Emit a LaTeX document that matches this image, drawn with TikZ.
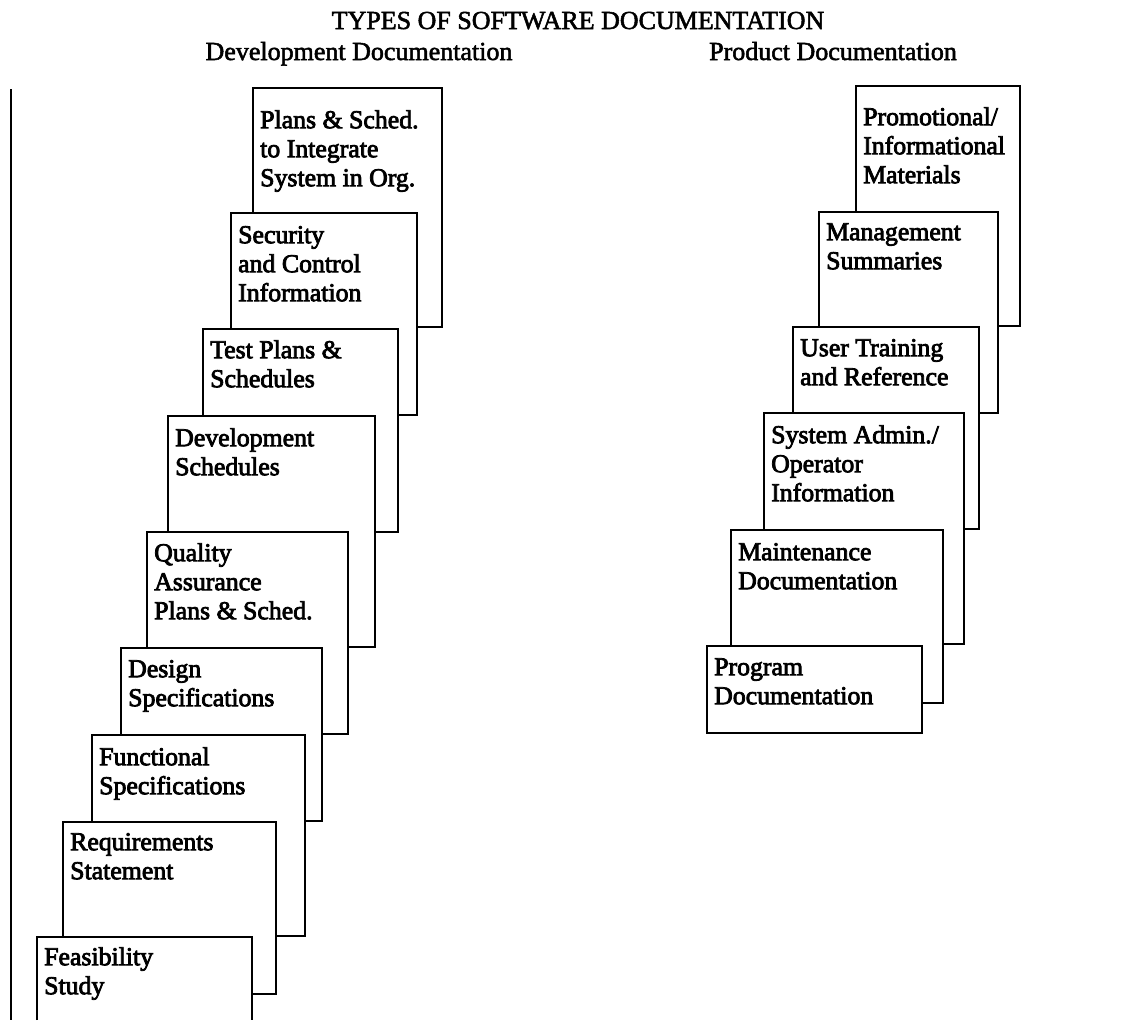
\documentclass[tikz,border=0pt]{standalone}
\usepackage{fontspec}
\setmainfont{Liberation Serif}
\font\boxfnt="Liberation Serif:embolden=3" at 25.8pt
\font\headfnt="Liberation Serif:embolden=2" at 26pt
\newcommand{\boxfont}{\boxfnt\baselineskip=29pt\relax}
\newcommand{\headfont}{\headfnt}
% #1 name, #2 left, #3 top, #4 right, #5 bottom, #6 first-baseline offset, #7 text
\newcommand{\docpage}[7]{%
  \node[page, minimum width={(#4-#2)*1pt}, minimum height={(#5-#3)*1pt}] (#1) at (#2,#3) {};
  \node[pagetext] (#1-t) at ([xshift=7pt,yshift={(18-#6)*1pt}]#1.north west) {\rule{0pt}{18pt}#7};
}
\tikzset{
  page/.style={draw=black, line width=1.8pt, fill=white, inner sep=0pt, outer sep=0pt, anchor=north west},
  openpage/.style={draw=none, fill=white, inner sep=0pt, outer sep=0pt, anchor=north west},
  pagetext/.style={inner sep=0pt, anchor=north west, align=left, font=\boxfont},
  heading/.style={inner sep=0pt, anchor=base, font=\headfont},
  rule/.style={draw=black, line width=1.8pt}
}
\begin{document}
\begin{tikzpicture}[x=1pt, y=-1pt]
\useasboundingbox[fill=white] (0,0) rectangle (1143,1020);

% headings
\node[heading] (title) at (578,29) {TYPES OF SOFTWARE DOCUMENTATION};
\node[heading] (devhead) at (359,60) {Development Documentation};
\node[heading] (prodhead) at (833,60) {Product Documentation};

% left margin rule
\coordinate (ruletop) at (11,89);
\coordinate (rulebot) at (11,1020);
\draw[rule] (ruletop) -- (rulebot);

% Development documentation stack (back to front)
\docpage{plans}{253}{88}{442}{327}{40}{Plans \& Sched.\\to Integrate\\System in Org.}
\docpage{security}{231}{213}{417}{415}{30}{Security\\and Control\\Information}
\docpage{test}{203}{329}{398}{532}{29}{Test Plans \&\\Schedules}
\docpage{devsched}{168}{416}{375}{647}{30}{Development\\Schedules}
\docpage{qa}{147}{532}{348}{734}{29}{Quality\\Assurance\\Plans \& Sched.}
\docpage{design}{121}{648}{322}{821}{29}{Design\\Specifications}
\docpage{functional}{92}{735}{305}{936}{30}{Functional\\Specifications}
\docpage{requirements}{63}{822}{276}{994}{28}{Requirements\\Statement}
\node[openpage, minimum width=215pt, minimum height=83pt] (feasibility) at (37,937) {};
\draw[rule] (feasibility.south west) -- (feasibility.north west) -- (feasibility.north east) -- (feasibility.south east);
\node[pagetext] (feasibility-t) at ([xshift=7pt,yshift=-10pt]feasibility.north west) {\rule{0pt}{18pt}Feasibility\\Study};

% Product documentation stack (back to front)
\docpage{promo}{856}{86}{1020}{326}{39}{Promotional/\\Informational\\Materials}
\docpage{mgmt}{819}{212}{998}{413}{28}{Management\\Summaries}
\docpage{usertrain}{793}{327}{979}{529}{29}{User Training\\and Reference}
\docpage{sysadmin}{764}{413}{964}{644}{30}{System Admin./\\Operator\\Information}
\docpage{maint}{731}{530}{943}{703}{30}{Maintenance\\Documentation}
\docpage{program}{707}{646}{922}{733}{29}{Program\\Documentation}
\end{tikzpicture}
\end{document}
